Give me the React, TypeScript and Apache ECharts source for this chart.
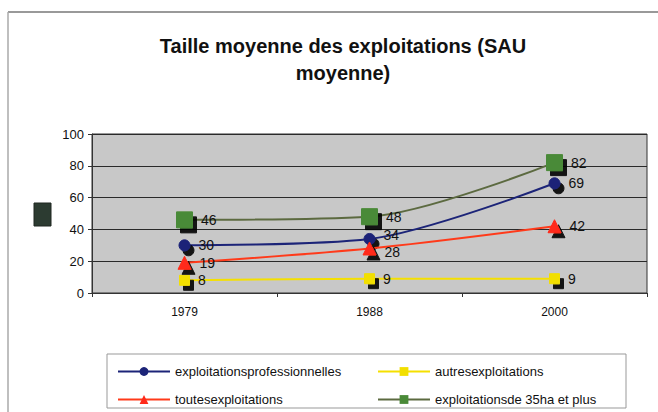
import React, { useEffect, useRef } from "react";
import * as echarts from "echarts";

const categories = ["1979", "1988", "2000"];
const professionnelles = [30, 34, 69];
const autres = [8, 9, 9];
const toutes = [19, 28, 42];
const plus35 = [46, 48, 82];
const seriesNames = [
  "exploitationsprofessionnelles",
  "autresexploitations",
  "toutesexploitations",
  "exploitationsde 35ha et plus",
];

export default function App() {
  const ref = useRef<HTMLDivElement>(null);
  useEffect(() => {
    const chart = echarts.init(ref.current!, null, { renderer: "svg" });
    const font = "'Liberation Sans', Arial, sans-serif";
    const shadow = { shadowColor: "rgba(0,0,0,0.9)", shadowOffsetX: 4, shadowOffsetY: 5, shadowBlur: 0 };
    const label = {
      show: true,
      position: "right" as const,
      distance: 8,
      color: "#111",
      fontSize: 14,
      fontFamily: font,
    };
    const mk = (
      name: string,
      data: number[],
      color: string,
      lineColor: string,
      symbol: string,
      size: number,
      z: number,
      nudge?: { index: number; dy: number }
    ) => ({
      name,
      type: "line",
      data: data.map((v, i) =>
        nudge && nudge.index === i ? { value: v, label: { offset: [0, nudge.dy] } } : v
      ),
      smooth: 0.3,
      symbol,
      symbolSize: size,
      z,
      lineStyle: { color: lineColor, width: 2 },
      itemStyle: { color, borderColor: color, ...shadow },
      label,
    });
    const legendText = { fontSize: 13, fontFamily: font, color: "#111" };
    chart.setOption({
      animation: false,
      backgroundColor: "#ffffff",
      title: {
        text: "Taille moyenne des exploitations (SAU\nmoyenne)",
        left: 338,
        textAlign: "center",
        top: 27,
        textStyle: { fontSize: 20, fontWeight: "bold", fontFamily: font, color: "#111", lineHeight: 27 },
      },
      grid: {
        left: 92,
        right: 11,
        top: 134,
        bottom: 119,
        show: true,
        backgroundColor: "#c8c8c8",
        borderColor: "#333",
        borderWidth: 1,
      },
      xAxis: {
        type: "category",
        data: categories,
        boundaryGap: true,
        axisLine: { lineStyle: { color: "#333" } },
        axisTick: { show: true, length: 4, lineStyle: { color: "#333" } },
        axisLabel: { color: "#111", fontSize: 12, fontFamily: font, margin: 13 },
      },
      yAxis: {
        type: "value",
        min: 0,
        max: 100,
        interval: 20,
        axisLine: { show: true, lineStyle: { color: "#333" } },
        axisTick: { show: true, length: 4, lineStyle: { color: "#333" } },
        axisLabel: { color: "#111", fontSize: 13, fontFamily: font, margin: 8 },
        splitLine: { lineStyle: { color: "#2a2a2a", width: 1 } },
      },
      legend: [
        {
          data: [seriesNames[0], seriesNames[2]],
          orient: "vertical",
          left: 112,
          top: 360,
          itemWidth: 52,
          itemHeight: 11,
          itemGap: 15,
          textStyle: legendText,
        },
        {
          data: [seriesNames[1], seriesNames[3]],
          orient: "vertical",
          left: 372,
          top: 360,
          itemWidth: 52,
          itemHeight: 11,
          itemGap: 15,
          textStyle: legendText,
        },
      ],
      graphic: [
        { type: "line", shape: { x1: 8, y1: 12, x2: 658, y2: 12 }, style: { stroke: "#777", lineWidth: 1.5 } },
        { type: "line", shape: { x1: 8, y1: 12, x2: 8, y2: 412 }, style: { stroke: "#aaa", lineWidth: 1.5 } },
        { type: "rect", shape: { x: 107, y: 354, width: 519, height: 54 }, style: { fill: "none", stroke: "#999", lineWidth: 1 }, z: -1 },
        { type: "rect", shape: { x: 34, y: 203, width: 17, height: 23 }, style: { fill: "#2c3b31", stroke: "#1e2620", lineWidth: 1 } },
      ],
      series: [
        mk(seriesNames[0], professionnelles, "#1c2478", "#1c2478", "circle", 11, 4, { index: 1, dy: -4 }),
        mk(seriesNames[1], autres, "#f2df00", "#f5e000", "rect", 10, 3),
        mk(seriesNames[2], toutes, "#ff2a1a", "#ff3a1a", "triangle", 13, 5, { index: 1, dy: 4 }),
        mk(seriesNames[3], plus35, "#4a8a38", "#5c6a40", "rect", 16, 2),
      ],
    });
    return () => chart.dispose();
  }, []);
  return <div ref={ref} style={{ width: 658, height: 412, position: "absolute", left: 0, top: 0 }} />;
}
